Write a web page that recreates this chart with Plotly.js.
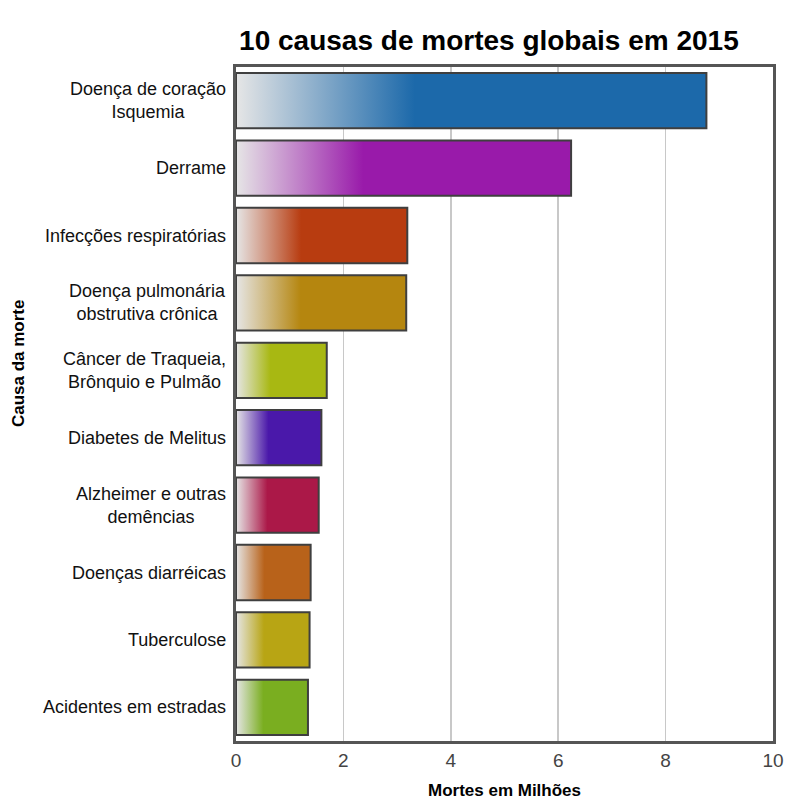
<!DOCTYPE html>
<html>
<head>
<meta charset="utf-8">
<script src="https://cdn.plot.ly/plotly-3.0.1.min.js"></script>
<style>html,body{margin:0;padding:0;background:#fff;}#chart{width:785px;height:805px;}</style>
</head>
<body>
<div id="chart"></div>
<script>
// ---- data ----
const categories = [
  "Doença de coração<br>Isquemia",
  "Derrame",
  "Infecções respiratórias",
  "Doença pulmonária<br>obstrutiva crônica",
  "Câncer de Traqueia,<br>Brônquio e Pulmão",
  "Diabetes de Melitus",
  "Alzheimer e outras<br>demências",
  "Doenças diarréicas",
  "Tuberculose",
  "Acidentes em estradas"
];
const deaths = [8.76, 6.24, 3.19, 3.17, 1.69, 1.59, 1.54, 1.39, 1.37, 1.34];
const barColors = ["#1c69aa", "#991aaa", "#b83c10", "#b5860f", "#a8b812",
                   "#4a18aa", "#ab1848", "#b8621a", "#b8a514", "#7aae20"];
const xTicks = [0, 2, 4, 6, 8, 10];

// ---- styling ----
const FONT = "Liberation Sans, Arial, sans-serif";
const halfBar = 0.41;
const fadeStop = 0.38;
const fadeStart = "#e6e6e6";

const traces = deaths.map((v, i) => ({
  type: "scatter",
  mode: "lines",
  x: [0, v, v, 0, 0],
  y: [i - halfBar, i - halfBar, i + halfBar, i + halfBar, i - halfBar],
  fill: "toself",
  fillcolor: barColors[i],
  fillgradient: {
    type: "horizontal",
    start: 0,
    stop: v,
    colorscale: [[0, fadeStart], [fadeStop, barColors[i]], [1, barColors[i]]]
  },
  line: {color: "#3f3f3f", width: 2},
  name: categories[i].replace("<br>", " "),
  hoverinfo: "name+x",
  showlegend: false
}));

const annotations = categories.map((c, i) => ({
  text: c,
  xref: "paper", yref: "y",
  x: -0.014, y: i,
  xanchor: "right", yanchor: "middle",
  align: "center",
  showarrow: false,
  font: {family: FONT, size: 18, color: "#111"}
}));

annotations.push({
  text: "<b>Causa da morte</b>",
  xref: "paper", yref: "paper",
  x: -0.405, y: 0.56,
  xanchor: "center", yanchor: "middle",
  textangle: -90,
  showarrow: false,
  font: {family: FONT, size: 17, color: "#000"}
});

const layout = {
  width: 785, height: 805,
  margin: {l: 236, r: 12, t: 67, b: 64},
  paper_bgcolor: "#fff",
  plot_bgcolor: "#fff",
  title: {
    text: "<b>10 causas de mortes globais em 2015</b>",
    font: {family: FONT, size: 28, color: "#000"},
    x: 0.471, xanchor: "center", xref: "paper",
    y: 0.962, yanchor: "top", yref: "container"
  },
  xaxis: {
    range: [0, 10],
    tickvals: xTicks,
    ticktext: xTicks.map(String),
    showgrid: true,
    gridcolor: "#c8c8c8",
    gridwidth: 1.5,
    zeroline: false,
    showline: true, mirror: true,
    linecolor: "#555", linewidth: 3,
    ticks: "",
    tickfont: {family: FONT, size: 19, color: "#444"},
    title: {
      text: "<b>Mortes em Milhões</b>",
      font: {family: FONT, size: 17, color: "#000"},
      standoff: 15
    },
    fixedrange: true
  },
  yaxis: {
    range: [9.5, -0.5],
    showgrid: false,
    zeroline: false,
    showticklabels: false,
    ticks: "",
    showline: true, mirror: true,
    linecolor: "#555", linewidth: 3,
    fixedrange: true
  },
  annotations: annotations
};

Plotly.newPlot("chart", traces, layout, {displayModeBar: false, staticPlot: true});
</script>
</body>
</html>
